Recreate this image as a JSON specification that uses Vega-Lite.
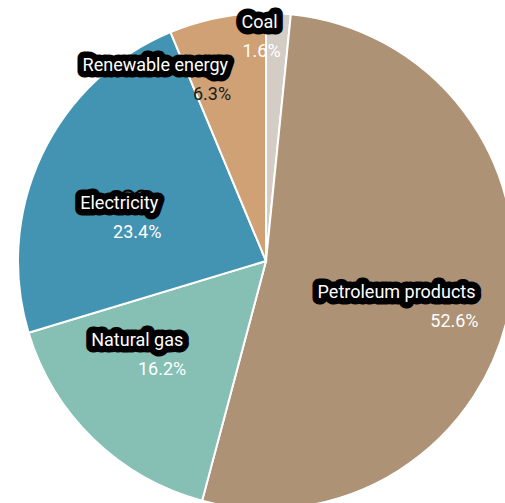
{
  "$schema": "https://vega.github.io/schema/vega-lite/v6.json",
  "width": 532,
  "height": 522,
  "autosize": {"type": "none"},
  "padding": 0,
  "background": "white",
  "config": {"view": {"stroke": null}},
  "data": {
    "values": [
      {"category": "Coal", "share": 1.6, "rank": 1, "pct": "1.6%"},
      {"category": "Petroleum products", "share": 52.6, "rank": 2, "pct": "52.6%"},
      {"category": "Natural gas", "share": 16.2, "rank": 3, "pct": "16.2%"},
      {"category": "Electricity", "share": 23.4, "rank": 4, "pct": "23.4%"},
      {"category": "Renewable energy", "share": 6.3, "rank": 5, "pct": "6.3%"}
    ]
  },
  "encoding": {
    "theta": {"field": "share", "type": "quantitative", "stack": true},
    "order": {"field": "rank", "type": "quantitative"},
    "detail": {"field": "category", "type": "nominal"}
  },
  "layer": [
    {
      "mark": {"type": "arc", "outerRadius": 248, "stroke": "white", "strokeWidth": 2},
      "encoding": {
        "color": {
          "field": "category",
          "type": "nominal",
          "scale": {
            "domain": ["Coal", "Petroleum products", "Natural gas", "Electricity", "Renewable energy"],
            "range": ["#d3cdc6", "#ae9276", "#86bfb4", "#4394b3", "#cfa175"]
          },
          "legend": null
        }
      }
    },
    {
      "mark": {"type": "text", "align": "right", "baseline": "middle", "font": "Roboto", "fontSize": 18, "dy": -6, "fill": "black", "stroke": "black", "strokeWidth": 13, "strokeJoin": "round"},
      "encoding": {
        "text": {"field": "category"},
        "radius": {"field": "share", "type": "quantitative", "scale": {"domain": [1.6, 6.3, 16.2, 23.4, 52.6], "range": [232, 193, 119, 119, 213], "zero": false, "nice": false}}
      }
    },
    {
      "mark": {"type": "text", "align": "right", "baseline": "middle", "font": "Roboto", "fontSize": 18, "dy": -6, "fill": "white"},
      "encoding": {
        "text": {"field": "category"},
        "radius": {"field": "share", "type": "quantitative", "scale": {"domain": [1.6, 6.3, 16.2, 23.4, 52.6], "range": [232, 193, 119, 119, 213], "zero": false, "nice": false}}
      }
    },
    {
      "mark": {"type": "text", "align": "right", "baseline": "middle", "font": "Roboto", "fontSize": 18, "dx": 3, "dy": 23},
      "encoding": {
        "text": {"field": "pct"},
        "radius": {"field": "share", "type": "quantitative", "scale": {"domain": [1.6, 6.3, 16.2, 23.4, 52.6], "range": [232, 193, 119, 119, 213], "zero": false, "nice": false}},
        "color": {"condition": {"test": "datum.category === 'Renewable energy'", "value": "#1a1a1a"}, "value": "white"}
      }
    }
  ]
}
